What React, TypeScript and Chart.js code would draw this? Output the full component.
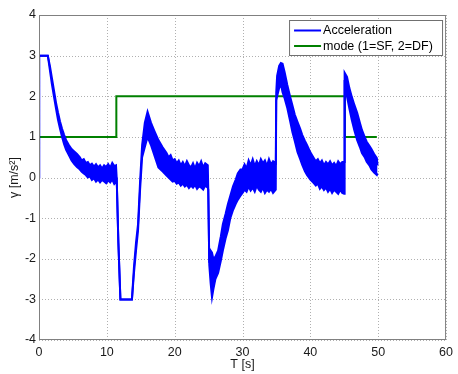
import React, { useEffect, useRef } from 'react';
import { Chart, registerables } from 'chart.js';

Chart.register(...registerables);

// Acceleration signal: time (s) and the upper / lower edge of the noisy trace (m/s²)
const accelTime = [
  0, 0.02, 1.3, 1.6, 1.9, 2.2, 2.5, 2.8, 3.1, 3.4, 3.7, 4.0, 4.4, 4.8, 5.2, 5.6,
  6.0, 6.3, 6.6, 6.9, 7.2, 7.5, 7.8, 8.1, 8.4, 8.7, 9.0, 9.3, 9.6, 9.9, 10.2, 10.5, 10.8, 11.1, 11.35,
  11.45, 11.7, 12.0, 13.7, 14.0, 14.3, 14.6, 14.9, 15.2, 15.6, 16.0, 16.5, 17.0, 17.6, 18.2,
  18.8, 19.1, 19.4, 19.7, 20.0, 20.3, 20.6, 20.9, 21.2, 21.5, 21.8, 22.1, 22.4, 22.7, 23.0, 23.3, 23.6, 23.9, 24.2, 24.5, 24.88,
  24.95, 25.1, 25.3, 25.5, 25.7, 26.0, 26.4, 26.8, 27.1, 27.5, 27.85, 28.2, 28.6, 29.0, 29.3, 29.7,
  30.0, 30.3, 30.6, 30.9, 31.2, 31.5, 31.8, 32.1, 32.4, 32.7, 33.0, 33.3, 33.6, 33.9, 34.2, 34.5, 34.9,
  34.97, 35.1, 35.4, 35.65, 35.9, 36.2, 36.6, 37.0, 37.35, 37.7, 38.1, 38.5, 38.8, 39.2, 39.5, 40.0,
  40.5, 40.8, 41.1, 41.4, 41.7, 42.0, 42.3, 42.6, 42.9, 43.2, 43.5, 43.8, 44.1, 44.4, 44.7, 44.98,
  45.05, 45.4, 45.75, 46.1, 46.5, 46.9, 47.3, 47.6, 48.0, 48.3, 48.7, 49.0, 49.4, 49.8, 49.9,
];
const accelUpper = [
  0, 3, 3, 2.75, 2.45, 2.15, 1.85, 1.6, 1.38, 1.2, 1.05, 0.92, 0.8, 0.7, 0.64, 0.58,
  0.5, 0.42, 0.45, 0.36, 0.38, 0.3, 0.34, 0.27, 0.33, 0.25, 0.3, 0.22, 0.3, 0.26, 0.33, 0.24, 0.36, 0.28, 0.3,
  0, -1.6, -3, -3, -2.2, -1.6, -1.15, -0.1, 0.8, 1.35, 1.62, 1.35, 1.15, 0.92, 0.75,
  0.6, 0.5, 0.55, 0.42, 0.45, 0.35, 0.42, 0.3, 0.38, 0.28, 0.4, 0.3, 0.25, 0.35, 0.22, 0.36, 0.28, 0.4, 0.25, 0.35, 0.3,
  -0.3, -2.1, -1.8, -1.85, -2.0, -1.95, -1.8, -1.45, -1.15, -0.9, -0.65, -0.45, -0.22, -0.05, 0.1, 0.2,
  0.2, 0.32, 0.22, 0.42, 0.3, 0.45, 0.28, 0.4, 0.3, 0.45, 0.35, 0.42, 0.28, 0.45, 0.32, 0.4, 0.35,
  2.1, 2.5, 2.75, 2.82, 2.8, 2.6, 2.28, 2.0, 1.78, 1.55, 1.37, 1.2, 1.05, 0.9, 0.8, 0.62,
  0.48, 0.4, 0.45, 0.35, 0.42, 0.3, 0.38, 0.32, 0.4, 0.3, 0.36, 0.28, 0.4, 0.33, 0.38, 0.38,
  2.58, 2.48, 2.2, 1.99, 1.78, 1.59, 1.35, 1.17, 1.0, 0.88, 0.78, 0.7, 0.58, 0.48, 0.3,
];
const accelLower = [
  0, 3, 3, 2.65, 2.3, 2.0, 1.7, 1.42, 1.2, 1.0, 0.82, 0.68, 0.55, 0.42, 0.33, 0.26,
  0.2, 0.14, 0.1, 0.06, 0.0, 0.03, -0.06, -0.02, -0.1, -0.05, -0.12, -0.06, -0.1, -0.14, -0.07, -0.12, -0.05, -0.16, -0.12,
  0, -1.6, -3, -3, -2.35, -1.8, -1.3, -0.3, 0.5, 0.75, 1.0, 0.8, 0.55, 0.25, 0.15,
  0.05, 0.0, -0.05, -0.1, -0.08, -0.15, -0.12, -0.2, -0.15, -0.22, -0.18, -0.26, -0.2, -0.25, -0.18, -0.28, -0.22, -0.25, -0.3, -0.2, -0.25,
  -0.3, -2.15, -2.6, -2.95, -2.75, -2.5, -2.35, -2.05, -1.8, -1.5, -1.3, -1.0, -0.8, -0.65, -0.55, -0.45,
  -0.38, -0.3, -0.35, -0.22, -0.32, -0.25, -0.35, -0.2, -0.3, -0.35, -0.25, -0.38, -0.3, -0.35, -0.28, -0.38, -0.3,
  1.9, 2.0, 2.2, 2.3, 2.1, 1.95, 1.71, 1.4, 1.12, 0.9, 0.63, 0.45, 0.31, 0.15, 0.06, -0.05,
  -0.14, -0.2, -0.15, -0.28, -0.22, -0.31, -0.25, -0.35, -0.28, -0.38, -0.3, -0.35, -0.4, -0.3, -0.38, -0.4,
  2.4, 1.99, 1.7, 1.42, 1.15, 0.92, 0.75, 0.6, 0.5, 0.39, 0.3, 0.2, 0.12, 0.06, 0.1,
];

// Mode signal (1 = SF, 2 = DF): each value holds until the next time
const modeTime = [0, 11.4, 45.1, 49.8];
const modeValue = [1, 2, 1, 1];

const seriesLabels = ['Acceleration', 'mode (1=SF, 2=DF)'];
const seriesColors = ['#0000ff', '#008000'];
const xTitle = 'T [s]';
const yTitle = 'γ [m/s²]';
const xTickLabels = ['0', '10', '20', '30', '40', '50', '60'];
const yTickLabels = ['-4', '-3', '-2', '-1', '0', '1', '2', '3', '4'];

const FONT = '"Liberation Sans", Arial, sans-serif';

const gridPlugin = {
  id: 'dottedGrid',
  beforeDatasetsDraw(chart: any) {
    const { ctx, chartArea: a, scales } = chart;
    ctx.save();
    ctx.strokeStyle = '#b0b0b0';
    ctx.lineWidth = 1;
    ctx.setLineDash([1, 2]);
    xTickLabels.forEach((l) => {
      const x = Math.round(scales.x.getPixelForValue(Number(l))) + 0.5;
      ctx.beginPath();
      ctx.moveTo(x, a.top);
      ctx.lineTo(x, a.bottom);
      ctx.stroke();
    });
    yTickLabels.forEach((l) => {
      const y = Math.round(scales.y.getPixelForValue(Number(l))) + 0.5;
      ctx.beginPath();
      ctx.moveTo(a.left, y);
      ctx.lineTo(a.right, y);
      ctx.stroke();
    });
    ctx.restore();
  },
};

const framePlugin = {
  id: 'frameAndLegend',
  afterDraw(chart: any) {
    const { ctx, chartArea: a } = chart;
    ctx.save();
    ctx.strokeStyle = '#808080';
    ctx.lineWidth = 1;
    ctx.setLineDash([]);
    ctx.strokeRect(a.left + 0.5, a.top + 0.5, a.right - a.left - 1, a.bottom - a.top - 1);

    // legend box
    const x0 = a.right - 157;
    const y0 = a.top + 5;
    const w = 153;
    const h = 35;
    ctx.fillStyle = '#ffffff';
    ctx.fillRect(x0, y0, w, h);
    ctx.strokeStyle = '#707070';
    ctx.strokeRect(x0 + 0.5, y0 + 0.5, w, h);
    const rows = [y0 + 10.5, y0 + 26];
    ctx.font = `12.5px ${FONT}`;
    ctx.textBaseline = 'middle';
    ctx.textAlign = 'left';
    seriesLabels.forEach((lab, i) => {
      ctx.strokeStyle = seriesColors[i];
      ctx.lineWidth = 2;
      ctx.beginPath();
      ctx.moveTo(x0 + 5, rows[i]);
      ctx.lineTo(x0 + 32, rows[i]);
      ctx.stroke();
      ctx.fillStyle = '#000000';
      ctx.fillText(lab, x0 + 34, rows[i] + 0.5);
    });
    ctx.restore();
  },
};

export default function App() {
  const ref = useRef<HTMLCanvasElement | null>(null);

  useEffect(() => {
    if (!ref.current) return;
    const upper = accelTime.map((t, i) => ({ x: t, y: accelUpper[i] }));
    const lower = accelTime.map((t, i) => ({ x: t, y: accelLower[i] }));
    const mode = modeTime.map((t, i) => ({ x: t, y: modeValue[i] }));

    const chart = new Chart(ref.current, {
      type: 'line',
      data: {
        datasets: [
          {
            label: seriesLabels[0],
            data: upper,
            borderColor: seriesColors[0],
            backgroundColor: seriesColors[0],
            borderWidth: 2,
            pointRadius: 0,
            tension: 0,
            fill: false,
          },
          {
            label: seriesLabels[0] + ' (lower)',
            data: lower,
            borderColor: seriesColors[0],
            backgroundColor: seriesColors[0],
            borderWidth: 2,
            pointRadius: 0,
            tension: 0,
            fill: '-1',
          },
          {
            label: seriesLabels[1],
            data: mode,
            borderColor: seriesColors[1],
            backgroundColor: seriesColors[1],
            borderWidth: 2,
            pointRadius: 0,
            stepped: 'before',
            fill: false,
          },
        ],
      },
      options: {
        responsive: false,
        animation: false,
        layout: { padding: { left: 0, top: 15, right: 8, bottom: 0 } },
        plugins: {
          legend: { display: false },
          tooltip: { enabled: false },
        },
        scales: {
          x: {
            type: 'linear',
            min: 0,
            max: 60,
            afterFit: (s: any) => { s.height = 34; },
            ticks: {
              stepSize: 10,
              padding: 5,
              color: '#1a1a1a',
              font: { family: FONT, size: 12.5 },
              callback: (v: any) => {
                const idx = Math.round(Number(v) / 10);
                return xTickLabels[idx] ?? '';
              },
            },
            grid: { display: false, drawTicks: false },
            border: { display: false },
            title: {
              display: true,
              text: xTitle,
              color: '#1a1a1a',
              font: { family: FONT, size: 12.5 },
              padding: { top: 0, bottom: 1.5 },
            },
          },
          y: {
            type: 'linear',
            min: -4,
            max: 4,
            afterFit: (s: any) => { s.width = 39; },
            ticks: {
              stepSize: 1,
              padding: 3,
              color: '#1a1a1a',
              font: { family: FONT, size: 12.5 },
              callback: (v: any) => {
                const idx = Math.round(Number(v)) + 4;
                return yTickLabels[idx] ?? '';
              },
            },
            grid: { display: false, drawTicks: false },
            border: { display: false },
            title: {
              display: true,
              text: yTitle,
              color: '#1a1a1a',
              font: { family: FONT, size: 12.5 },
              padding: { top: 7.5, bottom: 0 },
            },
          },
        },
      },
      plugins: [gridPlugin, framePlugin],
    });
    return () => chart.destroy();
  }, []);

  return (
    <div style={{ position: 'absolute', left: 0, top: 0, width: 458, height: 374, background: '#ffffff' }}>
      <canvas ref={ref} width={458} height={374} style={{ display: 'block' }} />
    </div>
  );
}
